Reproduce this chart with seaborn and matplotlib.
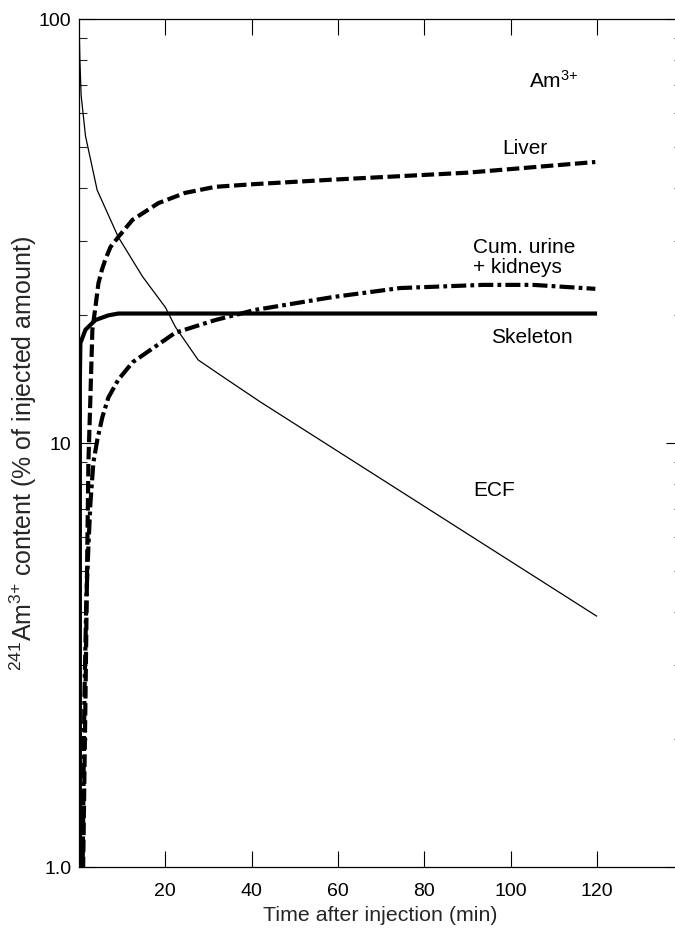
import matplotlib
matplotlib.use("Agg")
import matplotlib.pyplot as plt
import seaborn as sns
import pandas as pd

# Time courses (min) and contents (% of injected amount)
ecf_t = [0.0, 0.2, 0.5, 1.5, 4.2, 9.1, 14.7, 20.0, 22.3, 27.6, 33.9, 42.0, 120.0]
ecf_v = [100.0, 80.0, 66.0, 53.0, 39.5, 30.6, 24.7, 20.9, 18.8, 15.7, 14.2, 12.5, 3.9]

liver_t = [0.9, 1.5, 1.94, 2.18, 2.64, 3.1, 3.8, 4.5, 5.3, 6.1, 7.3, 9.1, 12.4, 18.4, 24.6, 31.6, 40.8, 58.9, 89.9, 119.6]
liver_v = [0.9, 2.5, 5.8, 9.0, 12.8, 18.5, 20.9, 23.8, 25.6, 27.1, 29.0, 30.6, 33.6, 36.8, 38.9, 40.2, 40.8, 41.8, 43.4, 46.0]

urine_t = [0.8, 1.25, 1.7, 2.18, 2.64, 3.33, 4.26, 5.4, 6.8, 9.1, 12.4, 17.0, 22.3, 31.6, 40.8, 58.9, 74.4, 93.6, 105.2, 119.6]
urine_v = [0.9, 2.5, 4.3, 5.7, 7.2, 9.0, 10.2, 11.5, 12.8, 14.1, 15.5, 16.7, 18.2, 19.5, 20.6, 22.1, 23.2, 23.6, 23.6, 23.1]

skel_t = [0.2, 0.2, 0.32, 1.5, 3.8, 6.8, 9.1, 120.0]
skel_v = [0.9, 14.1, 17.2, 18.5, 19.5, 20.0, 20.2, 20.2]

x_ticks = [20, 40, 60, 80, 100, 120]
y_ticks = [1, 10, 100]
y_ticklabels = ["1.0", "10", "100"]

sns.set_style("ticks")
plt.rcParams["font.family"] = ["Liberation Sans", "DejaVu Sans"]
plt.rcParams["mathtext.fontset"] = "custom"
plt.rcParams["mathtext.rm"] = "Liberation Sans"
plt.rcParams["mathtext.it"] = "Liberation Sans"
plt.rcParams["mathtext.default"] = "regular"

fig = plt.figure(figsize=(6.75, 9.31), dpi=100)
ax = fig.add_axes([79 / 675, 64 / 931, (681.5 - 79) / 675, (867 - 19) / 931])

series = [
    (ecf_t, ecf_v, 0.9, "-"),
    (skel_t, skel_v, 3.0, "-"),
    (liver_t, liver_v, 3.0, (0, (3.0, 1.1))),
    (urine_t, urine_v, 3.0, (0, (3.6, 1.0, 0.9, 1.0))),
]
for t, v, lw, ls in series:
    df = pd.DataFrame({"t": t, "v": v})
    sns.lineplot(data=df, x="t", y="v", ax=ax, color="black", lw=lw,
                 estimator=None, sort=False, errorbar=None)
    line = ax.lines[-1]
    line.set_linestyle(ls)
    line.set_solid_capstyle("butt")
    line.set_dash_capstyle("butt")
    line.set_solid_joinstyle("round")

ax.set_yscale("log")
ax.set_xlim(0, (681.5 - 78.6) / 4.32)
ax.set_ylim(1, 100)
ax.set_xticks(x_ticks)
ax.set_xticklabels([str(v) for v in x_ticks])
ax.set_yticks(y_ticks)
ax.set_yticklabels(y_ticklabels)
ax.yaxis.set_minor_locator(matplotlib.ticker.LogLocator(base=10, subs=range(2, 10)))
ax.yaxis.set_minor_formatter(matplotlib.ticker.NullFormatter())

ax.tick_params(axis="both", which="major", direction="in", length=11.5, width=0.8,
               labelsize=14, top=True, right=True, colors="black")
ax.tick_params(axis="y", which="minor", direction="in", length=5.8, width=0.8,
               left=True, right=True)
ax.tick_params(axis="x", which="major", pad=11.5)
ax.tick_params(axis="y", which="major", pad=5.5)
for s in ["left", "bottom", "top", "right"]:
    ax.spines[s].set_linewidth(0.9)
    ax.spines[s].set_color("black")

ax.set_xlabel("Time after injection (min)", fontsize=15.4, labelpad=4)
ax.set_ylabel(r"$^{241}$Am$^{\text{3+}}$ content (% of injected amount)", fontsize=18, labelpad=0)
ax.yaxis.label.set_y(0.488)

txt = dict(fontsize=15, ha="left", va="baseline", color="black")
ax.text(104.3, 68.8, r"Am$^{\text{3+}}$", **txt)
ax.text(98.0, 48.1, "Liver", **txt)
ax.text(91.3, 28.1, "Cum. urine", **txt)
ax.text(91.3, 25.2, "+ kidneys", **txt)
ax.text(95.5, 17.2, "Skeleton", **txt)
ax.text(91.3, 7.5, "ECF", **txt)

fig.savefig("out.png", dpi=100)
